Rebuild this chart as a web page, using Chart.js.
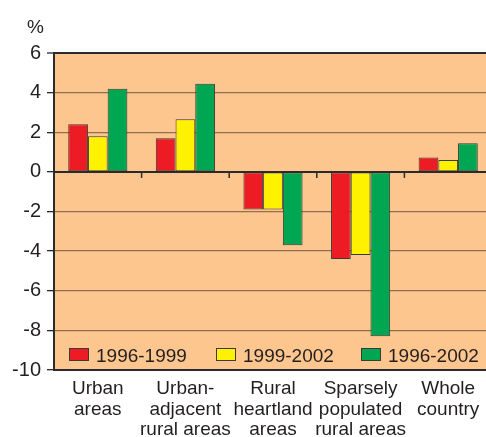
<!DOCTYPE html>
<html>
<head>
<meta charset="utf-8">
<script src="https://cdn.jsdelivr.net/npm/chart.js@4"></script>
<style>
  html, body { margin: 0; padding: 0; background: #fff; overflow: hidden; }
  #wrap { position: absolute; left: 0; top: 0; width: 492px; height: 437px; }
</style>
</head>
<body>
<div id="wrap"><canvas id="chart" width="492" height="437"></canvas></div>
<script>
// --- Data ---
const categories = [
    ['Urban', 'areas'],
    ['Urban-', 'adjacent', 'rural areas'],
    ['Rural', 'heartland', 'areas'],
    ['Sparsely', 'populated', 'rural areas'],
    ['Whole', 'country']
];
const seriesNames = ['1996-1999', '1999-2002', '1996-2002'];
const values1996_1999 = [2.4, 1.7, -1.9, -4.4, 0.73];
const values1999_2002 = [1.8, 2.65, -1.9, -4.2, 0.6];
const values1996_2002 = [4.2, 4.45, -3.7, -8.3, 1.45];
const yTicks = [-10, -8, -6, -4, -2, 0, 2, 4, 6];
const yUnit = '%';

const seriesColors = ['#ed1c24', '#fff200', '#00a651'];
const FONT = '"Liberation Sans", Arial, sans-serif';
const TEXT = '#231f20';
const PLOT_BG = '#fcc68e';
const GRID = '#8f6f50';

// background, zero line ticks, legend and unit label
const decorPlugin = {
    id: 'decor',
    beforeDraw(chart) {
        const { ctx, chartArea: a } = chart;
        ctx.save();
        ctx.fillStyle = PLOT_BG;
        ctx.fillRect(a.left, a.top, a.right - a.left, a.bottom - a.top);
        ctx.restore();
    },
    afterDatasetsDraw(chart) {
        const { ctx, chartArea: a, scales } = chart;
        const x = scales.x, y = scales.y;
        const y0 = y.getPixelForValue(0);
        ctx.save();
        ctx.strokeStyle = '#2b2b2b';
        ctx.lineWidth = 2;
        ctx.beginPath();
        ctx.moveTo(a.left, y0);
        ctx.lineTo(a.right, y0);
        ctx.stroke();
        // small ticks between categories on zero line
        ctx.lineWidth = 1.5;
        for (let i = 1; i < categories.length; i++) {
            const px = (x.getPixelForValue(i - 1) + x.getPixelForValue(i)) / 2;
            ctx.beginPath();
            ctx.moveTo(px, y0);
            ctx.lineTo(px, y0 + 6);
            ctx.stroke();
        }
        // legend inside plot area
        ctx.font = '19px ' + FONT;
        ctx.textBaseline = 'alphabetic';
        ctx.textAlign = 'left';
        const legendX = [15, 162, 307];
        seriesNames.forEach((name, i) => {
            const bx = a.left + legendX[i];
            const by = a.bottom - 22;
            ctx.fillStyle = seriesColors[i];
            ctx.fillRect(bx, by, 20, 13);
            ctx.strokeStyle = '#3a3a3a';
            ctx.lineWidth = 1;
            ctx.strokeRect(bx + 0.5, by + 0.5, 19, 12);
            ctx.fillStyle = TEXT;
            ctx.fillText(name, bx + 27, by + 14);
        });
        // unit label
        ctx.fillText(yUnit, 27, 33);
        ctx.restore();
    }
};

const chart = new Chart(document.getElementById('chart').getContext('2d'), {
    type: 'bar',
    data: {
        labels: categories,
        datasets: [values1996_1999, values1999_2002, values1996_2002].map((vals, i) => ({
            label: seriesNames[i],
            data: vals,
            backgroundColor: seriesColors[i],
            borderColor: '#3a3a3a',
            borderWidth: 1,
            borderSkipped: false
        }))
    },
    options: {
        responsive: false,
        animation: false,
        layout: { padding: { top: 53, right: 0, left: 0, bottom: 0 } },
        plugins: {
            legend: { display: false },
            tooltip: { enabled: false }
        },
        datasets: {
            bar: { barPercentage: 1, categoryPercentage: 0.675 }
        },
        scales: {
            x: {
                grid: { display: false },
                border: { display: true, color: '#2b2b2b', width: 2 },
                ticks: {
                    color: TEXT,
                    font: { family: FONT, size: 19, lineHeight: 1.1 },
                    padding: 0,
                    maxRotation: 0,
                    autoSkip: false
                },
                afterFit(scale) { scale.height = 67; }
            },
            y: {
                min: yTicks[0],
                max: yTicks[yTicks.length - 1],
                afterBuildTicks(scale) {
                    scale.ticks = yTicks.map(v => ({ value: v }));
                },
                grid: {
                    color: ctx => (ctx.tick && (ctx.tick.value === 6 || ctx.tick.value === 0)) ? '#2b2b2b' : GRID,
                    lineWidth: ctx => (ctx.tick && ctx.tick.value === 6) ? 2 : 1.3,
                    tickColor: '#2b2b2b',
                    tickLength: 7,
                    tickWidth: 1.3
                },
                border: { display: true, color: '#2b2b2b', width: 2 },
                ticks: {
                    color: TEXT,
                    font: { family: FONT, size: 20 },
                    padding: 6,
                    callback: v => String(v)
                },
                afterFit(scale) { scale.width = 54; }
            }
        }
    },
    plugins: [decorPlugin]
});
</script>
</body>
</html>
